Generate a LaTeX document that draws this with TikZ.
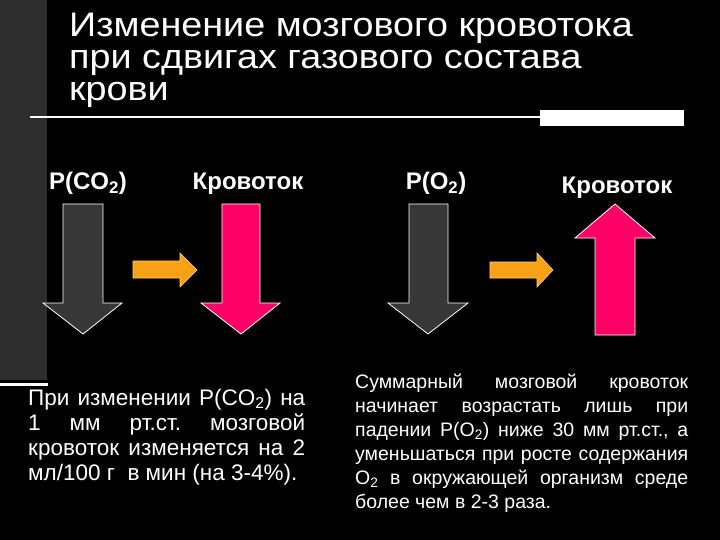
\documentclass[tikz,border=0pt]{standalone}
\usepackage{fontspec}
\setmainfont{Liberation Sans}
\usetikzlibrary{positioning}
\frenchspacing
\definecolor{slidebg}{RGB}{0,0,0}
\definecolor{barcolor}{RGB}{45,45,45}
\definecolor{greyarrow}{RGB}{55,55,55}
\definecolor{pinkarrow}{RGB}{255,0,102}
\definecolor{orangearrow}{RGB}{248,160,22}
\definecolor{orangeedge}{RGB}{255,215,120}
\newcommand{\widetitle}[1]{\scalebox{1.11}[1]{#1}}
\tikzset{
titletext/.style={
  anchor=base west,
  inner sep=0pt,
  text=white,
  font=\fontsize{34}{34}\selectfont
},
headtext/.style={
  anchor=base,
  inner sep=0pt,
  text=white,
  font=\bfseries\fontsize{24}{24}\selectfont
},
bodytext/.style={
  anchor=base west,
  inner sep=0pt,
  text=white
},
greyblock/.style={
  draw=white,
  line width=0.8pt,
  fill=greyarrow
},
pinkblock/.style={
  draw=white,
  line width=0.8pt,
  fill=pinkarrow
},
orangeblock/.style={
  draw=orangeedge,
  line width=0.6pt,
  fill=orangearrow
}
}

\begin{document}
\begin{tikzpicture}[x=1pt, y=-1pt]
  % Slide background
  \fill[slidebg] (0,0) rectangle (720,540);
  \useasboundingbox (0,0) rectangle (720,540);
  \fill[barcolor] (0,0) rectangle (47,380);
  \draw[white, line width=3pt] (0,384) -- (48,384);

  % Title and rule
  \node[titletext] (title1) at (69,37) {\widetitle{Изменение мозгового кровотока}};
  \node[titletext] (title2) at (69,69) {\widetitle{при сдвигах газового состава}};
  \node[titletext] (title3) at (69,101) {\widetitle{крови}};
  \draw[white, line width=2pt] (30,117) -- (540,117);
  \fill[white] (540,110) rectangle (684,126);

  % Column heads
  \node[headtext] (pco2) at (88,190) {P(CO\textsubscript{2})};
  \node[headtext] (flow1) at (248,190) {Кровоток};
  \node[headtext] (po2) at (436,190) {P(O\textsubscript{2})};
  \node[headtext] (flow2) at (617,194) {Кровоток};

  % Left pair: CO2 down -> flow down
  \draw[greyblock] (63,204) -- (103,204) -- (103,303) -- (122,303) -- (83,334) -- (43,303) -- (63,303) -- cycle;
  \draw[orangeblock] (133,261) -- (180,261) -- (180,253) -- (197,270) -- (180,287) -- (180,278) -- (133,278) -- cycle;
  \draw[pinkblock] (222,204) -- (260,204) -- (260,303) -- (280,303) -- (241,334) -- (201,303) -- (222,303) -- cycle;

  % Right pair: O2 down -> flow up
  \draw[greyblock] (409,204) -- (448,204) -- (448,303) -- (468,303) -- (428,334) -- (388,303) -- (409,303) -- cycle;
  \draw[orangeblock] (490,262) -- (537,262) -- (537,253) -- (553,270) -- (537,287) -- (537,278) -- (490,278) -- cycle;
  \draw[pinkblock] (595,335) -- (635,335) -- (635,238) -- (655,238) -- (615,204) -- (575,238) -- (595,238) -- cycle;

  % Notes
  \node[bodytext, font=\fontsize{22.5}{25}\selectfont] (co2note) at (28,405) {\parbox[t]{277pt}{%
    \makebox[\linewidth][s]{При изменении P(CO\textsubscript{2}) на}\\
    \makebox[\linewidth][s]{1 мм рт.ст. мозговой}\\
    \makebox[\linewidth][s]{кровоток изменяется на 2}\\
    мл/100 г\ \ в мин (на 3-4\%).}};
  \node[bodytext, font=\fontsize{19.5}{24}\selectfont] (o2note) at (355,388) {\parbox[t]{333pt}{%
    \makebox[\linewidth][s]{Суммарный мозговой кровоток}\\
    \makebox[\linewidth][s]{начинает возрастать лишь при}\\
    \makebox[\linewidth][s]{падении P(O\textsubscript{2}) ниже 30 мм рт.ст., а}\\
    \makebox[\linewidth][s]{уменьшаться при росте содержания}\\
    \makebox[\linewidth][s]{O\textsubscript{2} в окружающей организм среде}\\
    более чем в 2-3 раза.}};
\end{tikzpicture}
\end{document}
